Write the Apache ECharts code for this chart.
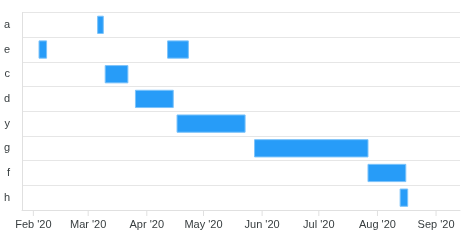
<!DOCTYPE html>
<html><head><meta charset="utf-8">
<script src="https://cdn.jsdelivr.net/npm/echarts@6/dist/echarts.min.js"></script>
<style>html,body{margin:0;padding:0;background:#fff}#c{width:465px;height:243px}</style>
</head><body><div id="c"></div>
<script>
const categories = ['a','e','c','d','y','g','f','h'];
const taskCategory = ['a','e','e','c','d','y','g','f','h'];
const taskStart = ['2020-03-06','2020-02-04','2020-04-12','2020-03-10','2020-03-26','2020-04-17','2020-05-28','2020-07-27','2020-08-13'];
const taskEnd   = ['2020-03-09','2020-02-08','2020-04-23','2020-03-22','2020-04-15','2020-05-23','2020-07-27','2020-08-16','2020-08-17'];
const tickLabels = ["Feb '20","Mar '20","Apr '20","May '20","Jun '20","Jul '20","Aug '20","Sep '20"];
const tickDates = ['2020-02-01','2020-03-01','2020-04-01','2020-05-01','2020-06-01','2020-07-01','2020-08-01','2020-09-01'];
const axisMin = '2020-01-26';
const axisMax = '2020-09-13T16:00:00';

const t = s => new Date(s + (s.length===10?'T00:00:00':'')).getTime();
const data = taskCategory.map((c,i)=>[categories.indexOf(c), t(taskStart[i]), t(taskEnd[i])]);
const tickSet = tickDates.map(t);
const FONT = '"Liberation Sans", Arial, Helvetica, sans-serif';

const chart = echarts.init(document.getElementById('c'), null, {renderer:'canvas'});
chart.setOption({
  animation:false,
  grid:{left:22, right:5, top:12.5, bottom:33},
  xAxis:{
    type:'time', min:t(axisMin), max:t(axisMax),
    axisLine:{show:true, lineStyle:{color:'#e0e0e0', width:1}},
    axisTick:{show:false},
    axisLabel:{show:false},
    splitLine:{show:false}
  },
  yAxis:{
    type:'category', data:categories, inverse:true,
    axisLine:{show:true, lineStyle:{color:'#e0e0e0'}},
    axisTick:{show:false},
    axisLabel:{color:'#373d3f', fontSize:11, fontFamily:FONT, margin:12},
    splitLine:{show:true, lineStyle:{color:'#e6e6e6'}},
    boundaryGap:true
  },
  series:[{
    type:'custom',
    encode:{x:[1,2], y:0},
    renderItem:(params, api)=>{
      const cat = api.value(0);
      const s = api.coord([api.value(1), cat]);
      const e = api.coord([api.value(2), cat]);
      const h = api.size([0,1])[1]*0.7;
      return {type:'rect', shape:{x:s[0], y:s[1]-h/2, width:e[0]-s[0], height:h},
        style:{fill:'#279cf8', stroke:'#7cc3fa', lineWidth:1}};
    },
    data:data
  },{
    type:'custom',
    encode:{x:0},
    renderItem:(params, api)=>{
      const p = api.coord([api.value(0), 0]);
      const bottom = params.coordSys.y + params.coordSys.height;
      return {type:'group', children:[
        {type:'line', shape:{x1:p[0], y1:bottom, x2:p[0], y2:bottom+6}, style:{stroke:'#e0e0e0', lineWidth:1}},
        {type:'text', style:{text:tickLabels[params.dataIndex], x:p[0], y:bottom+15, align:'center', verticalAlign:'middle',
          fill:'#373d3f', fontSize:11, fontFamily:FONT}}
      ]};
    },
    data:tickSet.map(v=>[v]),
    silent:true
  }]
});
</script></body></html>
